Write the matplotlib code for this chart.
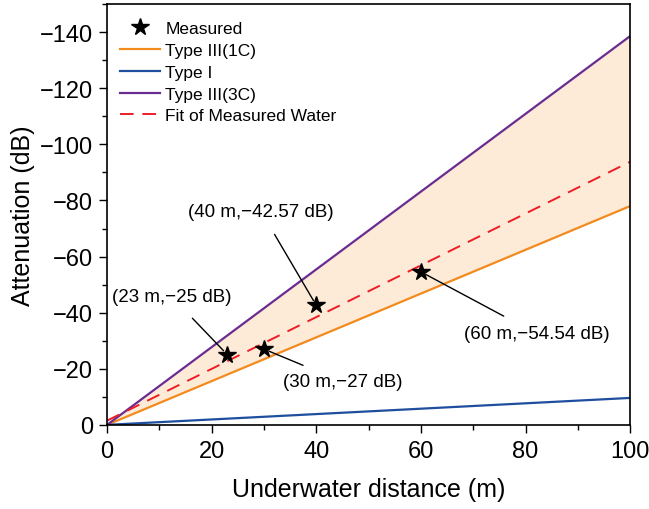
import numpy as np
import matplotlib.pyplot as plt

# 数据
dist = np.array([0, 100])
type_1c = np.array([0, -78])
type_i = np.array([0, -9.6])
type_3c = np.array([0, -138.6])
fit = np.array([-1.5, -93.8])

meas_x = [23, 30, 40, 60]
meas_y = [-25, -27, -42.57, -54.54]
labels = ['(23 m,\u221225 dB)', '(30 m,\u221227 dB)', '(40 m,\u221242.57 dB)', '(60 m,\u221254.54 dB)']
text_pos = [(12.4, -45.6), (45.1, -15.3), (29.4, -76.2), (82.2, -32.4)]

plt.rcParams['font.family'] = ['Liberation Sans', 'DejaVu Sans']

fig = plt.figure(figsize=(6.49, 5.10), dpi=100)
ax = fig.add_axes([0.165, 0.165, 0.806, 0.825])

ax.fill_between(dist, type_1c, type_3c, color='#FDEBD8', lw=0)
ax.plot(meas_x, meas_y, '*', color='black', ms=13, label='Measured', zorder=5)
ax.plot(dist, type_1c, color='#F28A1E', lw=1.6, label='Type III(1C)')
ax.plot(dist, type_i, color='#1F4E9E', lw=1.6, label='Type I')
ax.plot(dist, type_3c, color='#6A2C91', lw=1.6, label='Type III(3C)')
ax.plot(dist, fit, '--', color='#EE1C25', lw=1.4, dashes=(7, 4.5), label='Fit of Measured Water')

for (x, y), lab, tp in zip(zip(meas_x, meas_y), labels, text_pos):
    ax.annotate(lab, xy=(x, y), xytext=tp, ha='center', va='center', fontsize=13.5,
                arrowprops=dict(arrowstyle='-', color='black', lw=1, shrinkA=10, shrinkB=4))

ax.set_xlim(0, 100)
ax.set_ylim(0, -150)
ax.set_xticks(range(0, 101, 20))
ax.set_xticks(range(0, 101, 10), minor=True)
ax.set_yticks(range(0, -141, -20))
ax.set_yticks(range(0, -151, -10), minor=True)
ax.tick_params(labelsize=17, length=6, width=1)
ax.tick_params(which='minor', length=3.5, width=1)
ax.tick_params(axis='x', pad=5)
ax.tick_params(axis='y', pad=4)
for s in ax.spines.values():
    s.set_linewidth(1.2)

ax.set_xlabel('Underwater distance (m)', fontsize=18, labelpad=11)
ax.set_ylabel('Attenuation (dB)', fontsize=18, labelpad=4)
ax.legend(loc='upper left', frameon=False, fontsize=12.5, bbox_to_anchor=(0.0, 0.99),
          handlelength=2.3, handletextpad=0.3, labelspacing=0.38, borderaxespad=0.35)

fig.savefig('out.png', dpi=100)
